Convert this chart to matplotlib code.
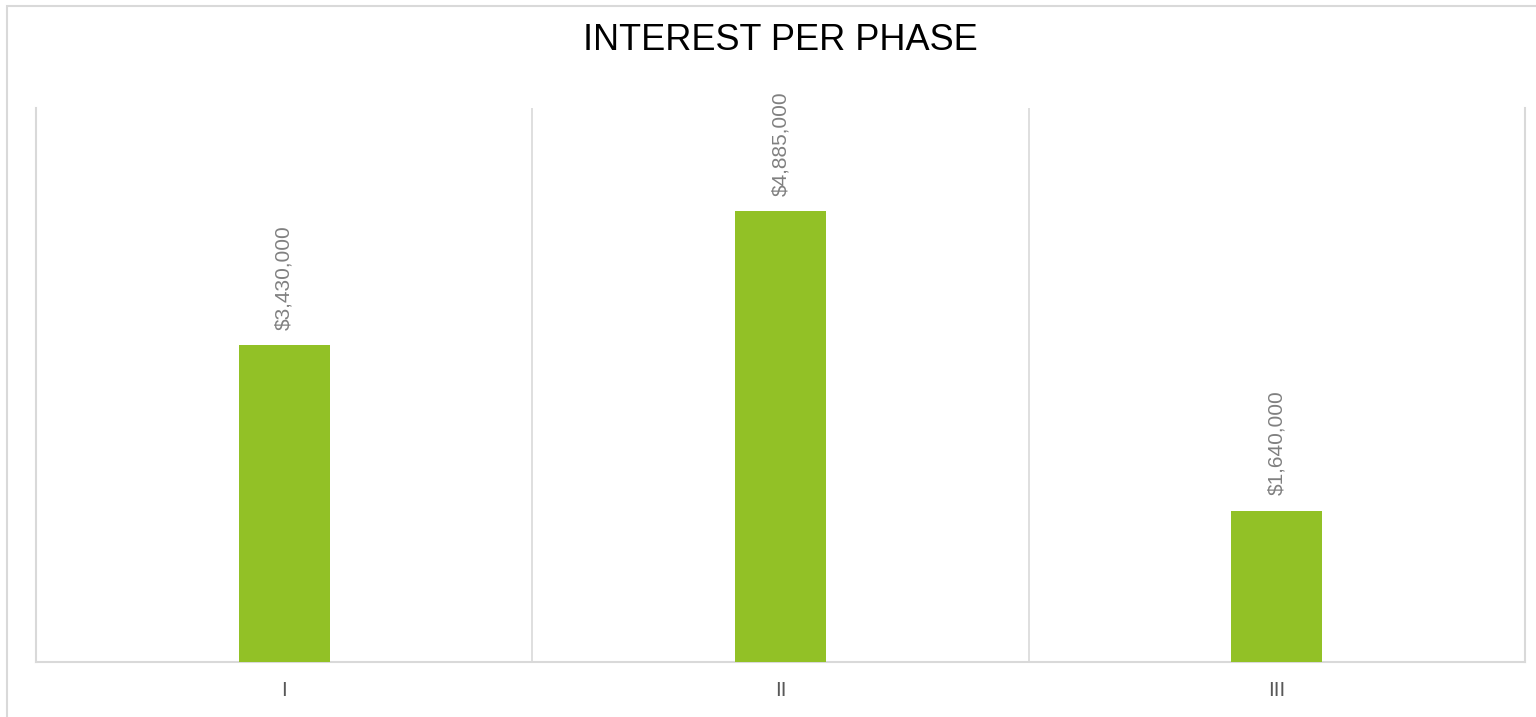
import matplotlib

matplotlib.use("Agg")
import matplotlib.pyplot as plt
from matplotlib.patches import Rectangle

# Datos del gráfico
phases = ["I", "II", "III"]
interest = [3430000, 4885000, 1640000]

plt.rcParams["font.family"] = ["Liberation Sans", "DejaVu Sans"]

fig = plt.figure(figsize=(15.36, 7.17), dpi=100)
ax = fig.add_axes([36 / 1536, 1 - 662 / 717, (1525 - 36) / 1536, (662 - 108) / 717])

x = list(range(len(phases)))
bars = ax.bar(x, interest, width=0.183, color="#92C126", zorder=3)

ax.set_xlim(-0.5, len(phases) - 0.5)
ax.set_ylim(0, 6000000)

# Líneas verticales entre categorías
for b in [0.5, 1.5]:
    ax.axvline(b, color="#D9D9D9", linewidth=1.2, zorder=1)

ax.spines["top"].set_visible(False)
for side in ["left", "right", "bottom"]:
    ax.spines[side].set_color("#D9D9D9")
    ax.spines[side].set_linewidth(1.5)

ax.set_yticks([])
ax.set_xticks(x)
ax.set_xticklabels(phases, fontsize=15, color="#595959")
ax.tick_params(axis="x", length=0, pad=14)

# Etiquetas de valores
for bar, v in zip(bars, interest):
    ax.annotate(
        f"${v:,.0f}",
        (bar.get_x() + bar.get_width() / 2, v),
        xytext=(0, 11),
        textcoords="offset points",
        rotation=90,
        ha="center",
        va="bottom",
        fontsize=15,
        color="#808080",
    )

fig.text(780 / 1536, 1 - 41 / 717, "INTEREST PER PHASE", ha="center", va="center",
         fontsize=26, color="#000000")

# Borde exterior
fig.patches.append(Rectangle((7 / 1536, -0.01), 1.1, 1 - 6 / 717 + 0.01, transform=fig.transFigure,
                             fill=False, edgecolor="#D9D9D9", linewidth=1.5))

fig.savefig("out.png", dpi=100)
plt.close(fig)
